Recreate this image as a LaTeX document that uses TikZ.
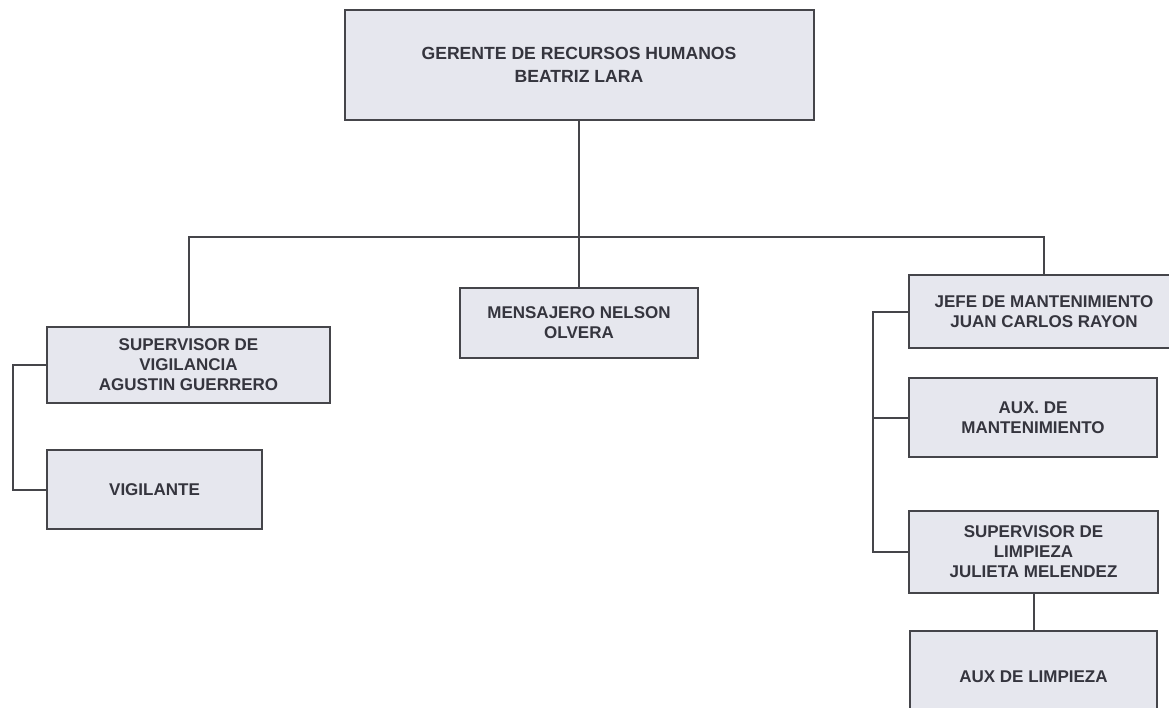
\documentclass[tikz,border=0pt]{standalone}
\usepackage{fontspec}
\setmainfont{Liberation Sans}
\definecolor{boxfill}{HTML}{E6E7EE}
\definecolor{boxline}{HTML}{45454A}
\definecolor{boxtext}{HTML}{35353E}
\begin{document}
\begin{tikzpicture}[x=1pt,y=-1pt,
  orgbox/.style={draw=boxline, fill=boxfill, line width=2pt, inner sep=0pt,
    align=center, text=boxtext, font=\fontsize{17}{20}\selectfont\bfseries},
  link/.style={draw=boxline, line width=2pt}]
\useasboundingbox[fill=white] (0,0) rectangle (1169,707);
\node[orgbox, minimum width=469pt, minimum height=110pt, font=\fontsize{17.6}{23}\selectfont\bfseries] (top) at (579,65) {GERENTE DE RECURSOS HUMANOS\\BEATRIZ LARA};
\node[orgbox, minimum width=283pt, minimum height=76pt] (sv) at (188.5,365) {SUPERVISOR DE\\VIGILANCIA\\AGUSTIN GUERRERO};
\node[orgbox, minimum width=215pt, minimum height=79pt] (vig) at (154.5,489.5) {VIGILANTE};
\node[orgbox, minimum width=238pt, minimum height=70pt] (men) at (579,323) {MENSAJERO NELSON\\OLVERA};
\node[orgbox, minimum width=270pt, minimum height=73pt] (jefe) at (1044,311.5) {JEFE DE MANTENIMIENTO\\JUAN CARLOS RAYON};
\node[orgbox, minimum width=248pt, minimum height=79pt] (auxm) at (1033,417.5) {AUX. DE\\MANTENIMIENTO};
\node[orgbox, minimum width=249pt, minimum height=82pt] (svl) at (1033.5,552) {SUPERVISOR DE\\LIMPIEZA\\JULIETA MELENDEZ};
\node[orgbox, minimum width=247pt, minimum height=92pt] (auxl) at (1033.5,677) {AUX DE LIMPIEZA};
\coordinate (bus) at (579,237);
\coordinate (lb) at (13,0);
\coordinate (rb) at (873,0);
\draw[link] (top.south) -- (bus);
\draw[link] (sv.north) |- (bus) -| (jefe.north);
\draw[link] (men.north) -- (men.north |- bus);
\draw[link] (sv.west) -- (sv.west -| lb) |- (vig.west);
\draw[link] (jefe.west) -- (jefe.west -| rb) |- (svl.west);
\draw[link] (auxm.west) -- (auxm.west -| rb);
\draw[link] (svl.south) -- (auxl.north);
\end{tikzpicture}
\end{document}
